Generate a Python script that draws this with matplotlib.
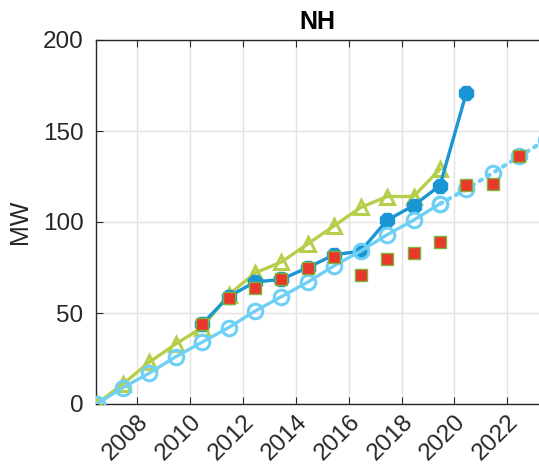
import matplotlib
matplotlib.use("Agg")
import matplotlib.pyplot as plt
import numpy as np

plt.rcParams['font.family'] = ['Liberation Sans', 'DejaVu Sans']

# Yearly sample positions (mid-year)
years = np.arange(2006, 2024) + 0.45

# Trend / projection (light blue circles)
trend = [0, 9, 17, 26, 34, 42, 51, 59, 67, 76, 84, 93, 101, 110, 118, 127, 136, 145]
trend_solid_n = 14  # solid through 2019, dotted afterwards

# Green triangles
green_years = years[:14]
green = [0, 11, 23, 33, 42, 60, 72, 78, 88, 98, 108, 114, 114, 129]

# Dark blue series
blue_years = years[4:15]
blue = [44, 59, 67, 68.5, 75, 82, 84, 101, 109, 120, 171]

# Red squares
red_years = years[4:17]
red = [44, 58, 63.5, 68.5, 74.5, 81, 71, 79.5, 83, 89, 120.5, 121, 136]

c_green = '#b5cf4a'
c_light = '#6fd0f5'
c_dark = '#1a96d4'
c_red = '#e8382b'

fig = plt.figure(figsize=(5.39, 4.72), dpi=100)
ax = fig.add_axes([96/539, 68/472, 443/539, 364/472])

lw = 2.4
ax.plot(green_years, green, color=c_green, lw=lw, marker='^', ms=10,
        mfc='none', mec=c_green, mew=2.2, zorder=3)
ax.plot(blue_years, blue, color=c_dark, lw=lw, marker='8', ms=11,
        mfc=c_dark, mec=c_dark, zorder=4)
ax.plot(years[:trend_solid_n], trend[:trend_solid_n], color=c_light, lw=lw,
        marker='o', ms=10.5, mfc='none', mec=c_light, mew=2.2, zorder=5)
ax.plot(years[trend_solid_n - 1:], trend[trend_solid_n - 1:], color=c_light,
        lw=3, linestyle=(0, (0.6, 1.6)), dash_capstyle='round',
        marker='o', ms=10.5, mfc='none', mec=c_light, mew=2.2, zorder=5)
ax.plot(red_years, red, linestyle='none', marker='s', ms=9,
        mfc=c_red, mec='#7fb33c', mew=1.0, zorder=6)

ax.set_xlim(2006.43, 2023.2)
ax.set_ylim(0, 200)
ax.set_xticks(np.arange(2008, 2023, 2))
ax.set_yticks([0, 50, 100, 150, 200])
ax.tick_params(axis='x', labelsize=17.5, rotation=45, direction='in',
               top=True, length=5, colors='#262626', pad=5)
ax.tick_params(axis='y', labelsize=17.5, direction='in', length=5,
               colors='#262626', pad=9)
for lab in ax.get_xticklabels():
    lab.set_ha('right')
    lab.set_rotation_mode('anchor')

ax.grid(True, color='#e3e3e3', lw=1.0)
ax.set_axisbelow(True)
for side in ['left', 'bottom', 'top']:
    ax.spines[side].set_color('#262626')
    ax.spines[side].set_linewidth(1.0)
ax.spines['right'].set_visible(False)

ax.set_ylabel('MW', fontsize=18, color='#262626', labelpad=8)
ax.set_title('NH', fontsize=18, fontweight='bold', color='black', pad=8)

fig.savefig('out.png', dpi=100)
